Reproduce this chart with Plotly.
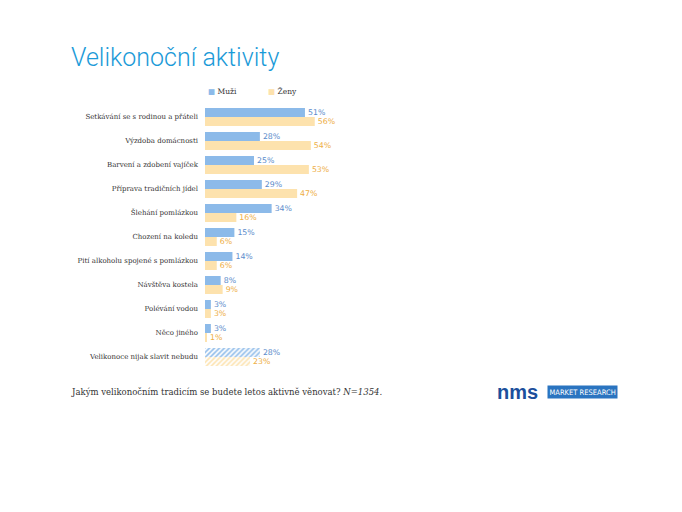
import plotly.graph_objects as go

categories = [
    "Setkávání se s rodinou a přáteli",
    "Výzdoba domácnosti",
    "Barvení a zdobení vajíček",
    "Příprava tradičních jídel",
    "Šlehání pomlázkou",
    "Chození na koledu",
    "Pití alkoholu spojené s pomlázkou",
    "Návštěva kostela",
    "Polévání vodou",
    "Něco jiného",
    "Velikonoce nijak slavit nebudu",
]
muzi = [51, 28, 25, 29, 34, 15, 14, 8, 3, 3, 28]
zeny = [56, 54, 53, 47, 16, 6, 6, 9, 3, 1, 23]
series_names = ["Muži", "Ženy"]

BLUE = "#8cbae9"
BLUE_TXT = "#5b8ccb"
ORANGE = "#fde2ad"
ORANGE_TXT = "#eeae44"

def patterns(n):
    return [""] * (n - 1) + ["/"]

fig = go.Figure()
for name, vals, col, tcol in [(series_names[0], muzi, BLUE, BLUE_TXT),
                              (series_names[1], zeny, ORANGE, ORANGE_TXT)]:
    fig.add_trace(go.Bar(
        name=name, y=categories, x=vals, orientation="h",
        marker=dict(color=col, line=dict(width=0),
                    pattern=dict(shape=patterns(len(vals)), fgcolor=col,
                                 bgcolor="white", fillmode="replace",
                                 size=3.5, solidity=0.45)),
        text=[f"{v}%" for v in vals], textposition="outside",
        constraintext="none",
        textfont=dict(family="DejaVu Sans", size=7.8, color=tcol),
        cliponaxis=False,
    ))

fig.update_layout(
    width=682, height=512,
    margin=dict(l=197, r=289, t=97, b=151),
    paper_bgcolor="white", plot_bgcolor="white",
    barmode="group", bargap=0.25, bargroupgap=0.0,
    showlegend=False,
    xaxis=dict(range=[0, 100], showgrid=False, zeroline=False, showticklabels=False,
               showline=False),
    yaxis=dict(autorange="reversed", showgrid=False, showline=False,
               tickfont=dict(family="DejaVu Serif", size=7, color="#333"),
               ticklabelstandoff=6),
    font=dict(family="DejaVu Serif"),
)

# legend drawn as text
for i, (name, col) in enumerate([(series_names[0], BLUE), (series_names[1], ORANGE)]):
    fig.add_annotation(text=f"<span style='color:{col}'>■</span> {name}",
                       xref="paper", yref="paper", x=0.005 + i * 0.305, y=1.0,
                       xanchor="left", yanchor="middle", yshift=14, showarrow=False,
                       font=dict(family="DejaVu Serif", size=7.5, color="#333"))

fig.add_annotation(text="Velikonoční aktivity", xref="paper", yref="paper",
                   x=-0.695, y=1.0, xanchor="left", yanchor="middle", yshift=48,
                   showarrow=False,
                   font=dict(family="Roboto", size=25, weight=300, color="#1b9ad8"))

fig.add_annotation(text="Jakým velikonočním tradicím se budete letos aktivně věnovat? <i>N=1354.</i>",
                   xref="paper", yref="paper", x=-0.695, y=0, xanchor="left", yanchor="middle",
                   yshift=-23, showarrow=False,
                   font=dict(family="DejaVu Serif", size=8.5, color="#333"))

fig.add_annotation(text="<b>nms</b>", xref="paper", yref="paper", x=1.48, y=0,
                   xanchor="left", yanchor="middle", yshift=-23, showarrow=False,
                   font=dict(family="Liberation Sans", size=20, color="#1c4f9c"))
fig.add_annotation(text="MARKET RESEARCH", xref="paper", yref="paper", x=1.745, y=0,
                   xanchor="left", yanchor="middle", yshift=-23, showarrow=False,
                   bgcolor="#2a74c0", borderpad=1.5,
                   font=dict(family="DejaVu Sans Condensed", size=7.5, color="white"))

fig.write_html("out.html")
